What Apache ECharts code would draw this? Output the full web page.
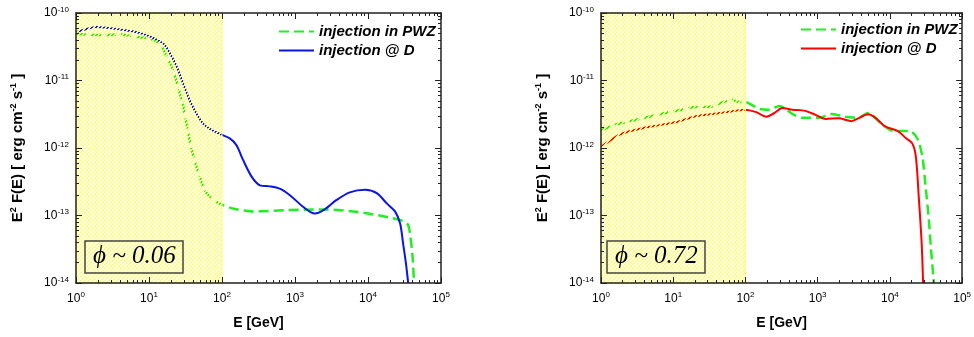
<!DOCTYPE html>
<html>
<head>
<meta charset="utf-8">
<script src="https://cdn.jsdelivr.net/npm/echarts@6/dist/echarts.min.js"></script>
<style>
  html, body { margin: 0; padding: 0; background: #fff; }
  #chart { width: 974px; height: 337px; }
</style>
</head>
<body>
<div id="chart"></div>
<script>
// left panel, phi ~ 0.06
var leftPwzE = [1, 2.3, 4, 6.8, 10.2, 14.1, 17.4, 21.4, 25.1, 29.5, 34.7, 40.7, 47.9, 58.9, 75.9, 100, 145, 269, 776, 2188, 6310, 18200, 30200, 35500, 38000, 40700, 42700];
var leftPwzF = [4.9e-11, 4.7e-11, 4.8e-11, 4.4e-11, 4.2e-11, 3.5e-11, 2.3e-11, 1.4e-11, 7.9e-12, 4.1e-12, 1.6e-12, 7.4e-13, 4.2e-13, 2.3e-13, 1.7e-13, 1.45e-13, 1.26e-13, 1.15e-13, 1.2e-13, 1.23e-13, 1.15e-13, 9.5e-14, 8.3e-14, 7.2e-14, 4.9e-14, 2.5e-14, 1.0e-14];
var leftDE = [1, 1.4, 1.9, 4, 6.8, 10.2, 15.8, 19.5, 24, 29.5, 36, 45, 55, 69, 95, 129, 158, 195, 257, 331, 457, 617, 851, 1288, 1862, 2455, 3715, 5623, 9120, 13180, 18200, 23440, 27540, 30200, 33100, 35500];
var leftDF = [5.2e-11, 5.8e-11, 6.2e-11, 5.7e-11, 5.2e-11, 4.5e-11, 3.5e-11, 2.5e-11, 1.6e-11, 8.9e-12, 5.1e-12, 3.2e-12, 2.3e-12, 1.9e-12, 1.6e-12, 1.38e-12, 1.1e-12, 6.6e-13, 3.7e-13, 2.8e-13, 2.7e-13, 2.5e-13, 2.0e-13, 1.35e-13, 1.07e-13, 1.2e-13, 1.7e-13, 2.2e-13, 2.4e-13, 2.14e-13, 1.5e-13, 1.15e-13, 7.6e-14, 3.9e-14, 1.95e-14, 1.0e-14];

// right panel, phi ~ 0.72
var rightPwzE = [1, 1.55, 2.34, 4, 6.8, 11.5, 19.1, 32.4, 44.7, 64.6, 83, 98, 155, 214, 295, 447, 617, 1023, 1585, 2399, 3630, 5012, 7586, 11480, 18620, 23990, 28180, 30900, 34670, 37150, 40740];
var rightPwzF = [1.82e-12, 2.2e-12, 2.45e-12, 2.8e-12, 3.2e-12, 3.6e-12, 4.0e-12, 4.1e-12, 4.6e-12, 5.2e-12, 4.8e-12, 4.8e-12, 3.8e-12, 3.7e-12, 4.2e-12, 3.2e-12, 2.8e-12, 2.8e-12, 3.2e-12, 2.9e-12, 2.8e-12, 3.3e-12, 2.3e-12, 1.78e-12, 1.78e-12, 1.38e-12, 7.4e-13, 3.0e-13, 8.5e-14, 3.1e-14, 1.0e-14];
var rightDE = [1, 1.26, 1.74, 2.34, 4, 6.8, 11.5, 19.1, 32.4, 55, 98, 141, 195, 251, 324, 447, 676, 933, 1288, 1950, 2951, 3630, 5012, 6457, 8511, 12880, 16600, 20420, 22900, 25100, 27540, 28840];
var rightDF = [1.05e-12, 1.23e-12, 1.55e-12, 1.74e-12, 2.0e-12, 2.2e-12, 2.45e-12, 2.9e-12, 3.16e-12, 3.4e-12, 3.7e-12, 3.4e-12, 2.9e-12, 3.3e-12, 3.9e-12, 3.7e-12, 3.55e-12, 3.1e-12, 2.7e-12, 2.75e-12, 2.5e-12, 2.75e-12, 3.16e-12, 2.75e-12, 2.1e-12, 1.78e-12, 1.41e-12, 1.17e-12, 7.4e-13, 1.9e-13, 3.9e-14, 1.0e-14];

var hatchRange = [1, 100];
var panelLabels = ['\u03d5 ~ 0.06', '\u03d5 ~ 0.72'];
var seriesNames = ['injection in PWZ', 'injection @ D'];

document.addEventListener('DOMContentLoaded', function()
{
  var chart = echarts.init(document.getElementById('chart'));

  function pairs(xs, ys) {
    return xs.map(function (x, i) { return [x, ys[i]]; });
  }

  // yellow diagonal hatching, transparent gaps so the curves show through
  var tile = document.createElement('canvas');
  tile.width = 4; tile.height = 4;
  var ctx = tile.getContext('2d');
  var img = ctx.createImageData(4, 4);
  for (var i = 0; i < 4; i++) {
    for (var j = 0; j < 4; j++) {
      var k = (j * 4 + i) * 4;
      if ((i + j) % 4 < 2) {
        img.data[k] = 255; img.data[k + 1] = 255; img.data[k + 2] = 125; img.data[k + 3] = 255;
      }
    }
  }
  ctx.putImageData(img, 0, 0);

  var font = 'Liberation Sans, Arial, sans-serif';
  var frame = { lineStyle: { color: '#222', width: 1.5 } };

  function powLabel(v) {
    return '{b|10}{s|' + Math.round(Math.log10(v)) + '}';
  }
  var labelRich = {
    b: { fontSize: 12, fontFamily: font, color: '#000' },
    s: { fontSize: 8, fontFamily: font, color: '#000', padding: [0, 0, 7, 0] }
  };

  function xAx(grid, pos, main) {
    return {
      type: 'log', gridIndex: grid, position: pos, min: 1, max: 1e5, z: 10,
      axisLine: frame,
      axisTick: { inside: true, length: 6, lineStyle: { color: '#222' } },
      minorTick: { show: true, splitNumber: 9, length: 3, lineStyle: { color: '#222' } },
      splitLine: { show: false },
      axisLabel: main ? { margin: 8, formatter: powLabel, rich: labelRich } : { show: false },
      name: main ? 'E [GeV]' : '',
      nameLocation: 'middle', nameGap: 33,
      nameTextStyle: { fontSize: 14, fontWeight: 'bold', fontFamily: font, color: '#000' }
    };
  }

  function yAx(grid, pos, main) {
    return {
      type: 'log', gridIndex: grid, position: pos, min: 1e-14, max: 1e-10, z: 10,
      axisLine: frame,
      axisTick: { inside: true, length: 6, lineStyle: { color: '#222' } },
      minorTick: { show: true, splitNumber: 9, length: 3, lineStyle: { color: '#222' } },
      splitLine: { show: false },
      axisLabel: main ? { margin: 7, formatter: powLabel, rich: labelRich } : { show: false },
      name: main ? '{t|E}{u|2}{t| F(E) [ erg cm}{u|-2}{t| s}{u|-1}{t| ]}' : '',
      nameLocation: 'middle', nameGap: 50,
      nameTextStyle: {
        rich: {
          t: { fontSize: 15, fontWeight: 'bold', fontFamily: font, color: '#000' },
          u: { fontSize: 9, fontWeight: 'bold', fontFamily: font, color: '#000', padding: [0, 0, 8, 0] }
        }
      }
    };
  }

  function curve(name, xs, ys, grid, color, dashed) {
    return {
      name: name, type: 'line', xAxisIndex: grid * 2, yAxisIndex: grid * 2,
      data: pairs(xs, ys), symbol: 'none', smooth: 0.3, z: 2,
      lineStyle: dashed ? { color: color, width: 2.5, type: [10, 5] } : { color: color, width: 2 },
      itemStyle: { color: color }
    };
  }

  function hatch(grid) {
    return {
      type: 'line', xAxisIndex: grid * 2, yAxisIndex: grid * 2, data: [], z: 4,
      markArea: {
        silent: true, z: 4,
        itemStyle: { color: { image: tile, repeat: 'repeat' }, borderColor: '#ffff70', borderWidth: 1 },
        data: [[{ xAxis: hatchRange[0] }, { xAxis: hatchRange[1] }]]
      }
    };
  }

  function legend(left, top, dColor) {
    return {
      orient: 'vertical', left: left, top: top, padding: 0,
      itemWidth: 35, itemHeight: 12, itemGap: 4,
      textStyle: { fontSize: 15, fontWeight: 'bold', fontStyle: 'italic', fontFamily: font, color: '#000' },
      data: [
        { name: seriesNames[0], itemStyle: { opacity: 0 } },
        { name: seriesNames[1], itemStyle: { color: dColor, opacity: 0 }, lineStyle: { color: dColor } }
      ]
    };
  }

  function box(text, left) {
    return {
      text: text, left: left, top: 241,
      padding: [3, 8, 4, 8],
      borderColor: '#444', borderWidth: 1.5,
      textStyle: { fontSize: 25, fontStyle: 'italic', fontWeight: 'normal', fontFamily: 'Liberation Serif, Times New Roman, serif', color: '#000' }
    };
  }

  var option = {
    animation: false,
    backgroundColor: '#fff',
    grid: [
      { left: 76, top: 13, width: 365, height: 270 },
      { left: 601, top: 13, width: 366, height: 270 }
    ],
    xAxis: [xAx(0, 'bottom', true), xAx(0, 'top', false), xAx(1, 'bottom', true), xAx(1, 'top', false)],
    yAxis: [yAx(0, 'left', true), yAx(0, 'right', false), yAx(1, 'left', true), yAx(1, 'right', false)],
    legend: [legend(278, 24, '#0a14e6'), legend(800, 22, '#ff0000')],
    title: [box(panelLabels[0], 85), box(panelLabels[1], 607)],
    series: [
      curve(seriesNames[0], leftPwzE, leftPwzF, 0, '#22ee22', true),
      curve(seriesNames[1], leftDE, leftDF, 0, '#0a14e6', false),
      curve(seriesNames[0], rightPwzE, rightPwzF, 1, '#22ee22', true),
      curve(seriesNames[1], rightDE, rightDF, 1, '#ff0000', false),
      hatch(0),
      hatch(1)
    ]
  };

  chart.setOption(option);
});
</script>
</body>
</html>
